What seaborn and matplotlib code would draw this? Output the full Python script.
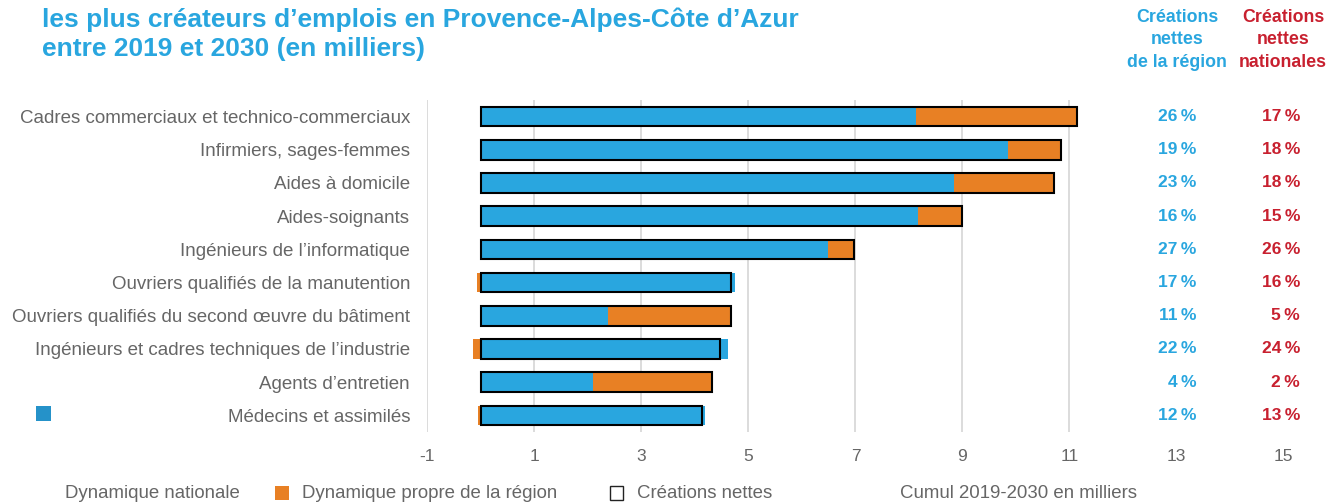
import numpy as np
import pandas as pd
import matplotlib
matplotlib.use('Agg')
import matplotlib.pyplot as plt
from matplotlib.patches import Rectangle
import seaborn as sns

# data (milliers, cumul 2019-2030)
metiers = [
    "Cadres commerciaux et technico-commerciaux",
    "Infirmiers, sages-femmes",
    "Aides à domicile",
    "Aides-soignants",
    "Ingénieurs de l\u2019informatique",
    "Ouvriers qualifiés de la manutention",
    "Ouvriers qualifiés du second œuvre du bâtiment",
    "Ingénieurs et cadres techniques de l\u2019industrie",
    "Agents d\u2019entretien",
    "Médecins et assimilés",
]
dyn_nationale = [8.13, 9.85, 8.84, 8.16, 6.48, 4.75, 2.37, 4.62, 2.09, 4.19]
dyn_region = [3.01, 0.99, 1.87, 0.84, 0.50, -0.07, 2.31, -0.15, 2.22, -0.05]
pct_region = [26, 19, 23, 16, 27, 17, 11, 22, 4, 12]
pct_national = [17, 18, 18, 15, 26, 16, 5, 24, 2, 13]
xticks = list(range(-1, 16, 2))

BLUE = '#29a6df'
ORANGE = '#e88024'
RED = '#c8202f'
GREY = '#666666'

df = pd.DataFrame({'metier': metiers,
                   'nationale': dyn_nationale,
                   'region': dyn_region})
df['net'] = df['nationale'] + df['region']
# orange drawn underneath: full net length when positive, own negative part otherwise
df['orange_bar'] = np.where(df['region'] > 0, df['net'], df['region'])

sns.set_theme(style='white')
plt.rcParams['font.family'] = ['Liberation Sans', 'DejaVu Sans']
plt.rcParams['axes.unicode_minus'] = False

fig = plt.figure(figsize=(13.28, 5.04), dpi=100)
ax = fig.add_axes([0.3219, 0.1429, 0.6768, 0.6587])

for x in [t for t in xticks if t <= 11]:
    ax.axvline(x, color='#d9d9d9', lw=1.3, zorder=0)

bw = 0.59
sns.barplot(data=df, y='metier', x='orange_bar', color=ORANGE, width=bw,
            errorbar=None, saturation=1, linewidth=0, orient='h', ax=ax)
sns.barplot(data=df, y='metier', x='nationale', color=BLUE, width=bw,
            errorbar=None, saturation=1, linewidth=0, orient='h', ax=ax)
sns.barplot(data=df, y='metier', x='net', color='black', fill=False, width=bw,
            errorbar=None, saturation=1, linewidth=1.5, orient='h', ax=ax)

ax.set_xlim(-1, 15.8)
ax.set_ylim(9.5, -0.5)
ax.set_xticks(xticks)
ax.set_xlabel('')
ax.set_ylabel('')
sns.despine(ax=ax, left=True, bottom=True)
ax.tick_params(axis='x', length=0, pad=12, labelsize=12.5, labelcolor=GREY)
ax.tick_params(axis='y', length=0, pad=12.5, labelsize=13.5, labelcolor=GREY)

for i, (pr, pn) in enumerate(zip(pct_region, pct_national)):
    ax.text(13.37, i, f"{pr}\u2009%", color=BLUE, fontsize=12.5, fontweight='bold',
            ha='right', va='center')
    ax.text(15.31, i, f"{pn}\u2009%", color=RED, fontsize=12.5, fontweight='bold',
            ha='right', va='center')

# title
fig.text(42 / 1328, 1 - 27 / 504,
         "les plus créateurs d\u2019emplois en Provence-Alpes-Côte d\u2019Azur",
         color=BLUE, fontsize=19, fontweight='bold', va='baseline')
fig.text(42 / 1328, 1 - 56 / 504, "entre 2019 et 2030 (en milliers)",
         color=BLUE, fontsize=19, fontweight='bold', va='baseline')

# column headers
fig.text(1177 / 1328, 1 - 40 / 504, "Créations\nnettes\nde la région",
         color=BLUE, fontsize=12.8, fontweight='bold', ha='center', va='center',
         multialignment='center', linespacing=1.4)
fig.text(1283 / 1328, 1 - 40 / 504, "Créations\nnettes\nnationales",
         color=RED, fontsize=12.8, fontweight='bold', ha='center', va='center',
         multialignment='center', linespacing=1.4)

# legend
ly = 1 - 493 / 504
fig.patches.append(Rectangle((36 / 1328, 1 - 421 / 504), 15 / 1328, 15 / 504,
                             transform=fig.transFigure, facecolor='#2592c9',
                             edgecolor='none'))
fig.text(65 / 1328, ly, "Dynamique nationale", color=GREY, fontsize=13.4, va='center')
fig.patches.append(Rectangle((275 / 1328, 1 - 500 / 504), 14 / 1328, 14 / 504,
                             transform=fig.transFigure, facecolor=ORANGE,
                             edgecolor='none'))
fig.text(302 / 1328, ly, "Dynamique propre de la région", color=GREY,
         fontsize=13.4, va='center')
fig.patches.append(Rectangle((610 / 1328, 1 - 500 / 504), 13 / 1328, 14 / 504,
                             transform=fig.transFigure, facecolor='white',
                             edgecolor='#222222', lw=1))
fig.text(637 / 1328, ly, "Créations nettes", color=GREY, fontsize=13.4, va='center')
fig.text(900 / 1328, ly, "Cumul 2019-2030 en milliers", color=GREY,
         fontsize=13.4, va='center')

fig.savefig('out.png', dpi=100)
